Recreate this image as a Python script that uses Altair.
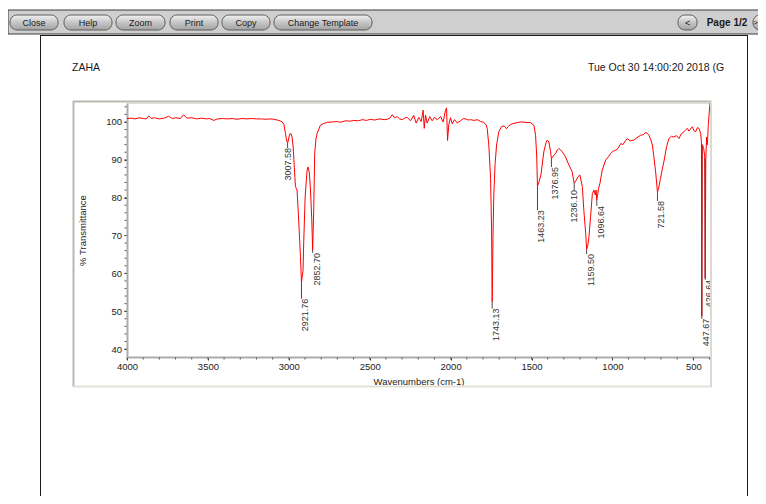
import altair as alt
import pandas as pd

FONT = "Liberation Sans"

# ---------------- spectrum ----------------
wavenumbers = [
    4000, 3975, 3950, 3925, 3900, 3880, 3866, 3850, 3830, 3800, 3770, 3743, 3720, 3700,
    3670, 3650, 3630, 3600, 3570, 3540, 3510, 3490, 3464, 3440, 3410, 3382, 3350, 3320,
    3290, 3260, 3230, 3200, 3170, 3140, 3110, 3093, 3072, 3055, 3041, 3030, 3021, 3015,
    3007.58, 3000, 2994, 2986, 2980, 2973, 2966, 2959, 2949, 2939, 2928, 2921.76, 2912,
    2908, 2899, 2887, 2881, 2873, 2866, 2858, 2852.70, 2846, 2840, 2832, 2825, 2805, 2785,
    2760, 2730, 2700, 2680, 2650, 2620, 2600, 2570, 2545, 2520, 2495, 2470, 2440, 2410,
    2392, 2375, 2361, 2347, 2330, 2315, 2299, 2285, 2268, 2248, 2228, 2213, 2197, 2182,
    2170, 2163, 2155, 2145, 2129, 2114, 2100, 2083, 2062, 2046, 2033, 2025, 2019, 2011,
    2001, 1990, 1976, 1959, 1939, 1920, 1908, 1890, 1877, 1855, 1835, 1815, 1795, 1780,
    1774, 1764, 1753, 1747, 1743.13, 1738, 1733, 1725, 1716, 1702, 1685, 1668, 1655, 1640,
    1620, 1590, 1566, 1540, 1505, 1485, 1475, 1468, 1463.23, 1455, 1442, 1424, 1410, 1403,
    1393, 1382, 1376.95, 1365, 1351, 1340, 1331, 1320, 1310, 1290, 1269, 1250, 1236.10,
    1225, 1213, 1201, 1186, 1176, 1165, 1159.50, 1152, 1145, 1135, 1124, 1114, 1106, 1101,
    1096.64, 1085, 1077, 1063, 1042, 1025, 1011, 995, 980, 965, 949, 935, 920, 908, 890,
    867, 850, 825, 810, 795, 785, 774, 763, 753, 743, 733, 721.58, 712, 703, 692, 682, 665,
    651, 635, 620, 605, 589, 575, 558, 545, 537, 528, 521, 512, 506, 495, 486, 475, 465,
    455, 450, 447.67, 444, 436, 430, 426.64, 423, 418, 413, 408, 403, 397,
]
transmittance = [
    100.9, 101.0, 100.8, 101.1, 100.9, 100.8, 101.6, 100.9, 101.1, 100.8, 101.0, 101.5, 100.9, 101.1,
    100.9, 101.9, 101.0, 101.1, 100.8, 101.0, 100.8, 100.9, 100.4, 100.8, 100.9, 100.8, 100.9, 100.7,
    100.9, 100.8, 100.9, 100.8, 100.8, 100.7, 100.8, 100.7, 100.5, 100.3, 100.0, 99.3, 97.0, 95.5,
    94.3, 95.8, 96.8, 96.9, 96.0, 93.4, 88.0, 82.9, 82.0, 74.1, 64.4, 57.5, 60.9,
    68.0, 80.2, 87.3, 88.1, 86.5, 82.0, 74.1, 66.2, 76.7, 91.7, 95.5, 97.0, 99.1, 99.6,
    99.9, 100.0, 100.1, 99.9, 100.3, 100.2, 100.4, 100.3, 100.6, 100.4, 100.7, 100.5, 100.8, 100.6,
    100.7, 101.0, 101.9, 101.1, 101.4, 100.8, 100.6, 101.0, 101.2, 100.3, 101.7, 99.7, 101.2, 100.1,
    103.1, 98.3, 101.8, 99.7, 101.4, 100.3, 101.2, 100.6, 101.4, 100.0, 102.8, 103.7, 95.1, 99.3,
    101.1, 99.5, 100.6, 99.7, 100.3, 100.9, 100.8, 100.5, 100.6, 100.4, 100.6, 100.1, 99.9, 99.2,
    98.3, 93.9, 85.1, 72.0, 52.5, 70.0, 80.7, 89.0, 93.9, 97.4, 98.8, 98.9, 98.2, 99.0,
    99.5, 99.8, 100.0, 99.9, 99.8, 99.1, 96.5, 91.0, 83.0, 84.0, 86.0, 92.1, 94.6, 95.2,
    94.7, 92.1, 90.3, 91.0, 91.7, 92.6, 93.0, 92.6, 92.1, 90.8, 88.6, 87.0, 83.8,
    84.5, 85.5, 86.0, 82.9, 76.3, 70.5, 66.3, 67.5, 69.7, 75.0, 81.1, 82.0, 80.7, 82.0,
    79.4, 82.5, 83.8, 87.3, 89.9, 90.8, 91.7, 92.3, 92.5, 93.0, 94.3, 94.0, 95.0, 95.6, 95.0,
    95.2, 95.8, 96.5, 96.6, 97.2, 97.0, 96.5, 95.3, 93.9, 90.5, 86.8, 81.4, 83.0, 85.1, 87.5, 89.5, 93.5,
    95.6, 96.2, 96.0, 96.4, 95.6, 96.8, 97.4, 98.0, 98.3, 97.6, 97.9, 98.5, 98.7, 97.6, 97.4, 98.5, 98.3,
    97.0, 94.7, 48.7, 94.0, 93.0, 91.0, 58.7, 90.0, 96.0, 94.0, 99.0, 101.8, 105.0,
]

# ---------------- peak labels ----------------
peak_wn = [3007.58, 2921.76, 2852.70, 1743.13, 1463.23, 1376.95, 1236.10, 1159.50,
           1096.64, 721.58, 447.67, 426.64]
peak_text = ["3007.58", "2921.76", "2852.70", "1743.13", "1463.23", "1376.95", "1236.10",
             "1159.50", "1096.64", "721.58", "447.67", "426.64"]
leader_from = [94.3, 57.5, 66.2, 52.5, 83.0, 90.3, 83.8, 66.3, 79.4, 81.4, 93.8, 90.4]
label_at = [93.1, 53.3, 65.4, 50.7, 76.7, 88.1, 82.0, 65.1, 77.8, 79.1, 48.0, 58.3]
label_centered = [True, False, False, False, False, False, True, False, False, False, False, False]

x_major_ticks = [500, 1000, 1500, 2000, 2500, 3000, 3500, 4000]
x_minor_ticks = list(range(400, 4001, 100))
y_major_ticks = [40, 50, 60, 70, 80, 90, 100]
y_minor_ticks = list(range(40, 105, 2))

# ---------------- window chrome (page pixel positions) ----------------
PX0, PY0 = 127, 103          # page position of the plot origin
W, H = 583, 254
TOTAL_W, TOTAL_H = 750, 488

button_names = ["Close", "Help", "Zoom", "Print", "Copy", "Change Template", "<", ">"]
button_left = [10, 64, 116, 170, 222, 274, 678, 753]
button_right = [58, 112, 165, 218, 270, 372, 697, 775]
button_text_x = [34, 88, 140.5, 194, 246, 323, 687.5, 755.5]

xs = alt.Scale(domain=[397, 4000], reverse=True, nice=False, zero=False)
ys = alt.Scale(domain=[37.9, 105.0], nice=False, zero=False)

one = pd.DataFrame({"a": [0]})


def rect(x0, x1, y0, y1, **kw):
    return alt.Chart(one).mark_rect(**kw).encode(
        x=alt.value(x0 - PX0), x2=alt.value(x1 - PX0),
        y=alt.value(y0 - PY0), y2=alt.value(y1 - PY0))


def rule(x0, y0, x1, y1, **kw):
    return alt.Chart(one).mark_rule(**kw).encode(
        x=alt.value(x0 - PX0), x2=alt.value(x1 - PX0),
        y=alt.value(y0 - PY0), y2=alt.value(y1 - PY0))


def label(x, y, txt, **kw):
    return alt.Chart(one).mark_text(text=txt, font=FONT, **kw).encode(
        x=alt.value(x - PX0), y=alt.value(y - PY0))


chrome = []
# toolbar
chrome.append(rect(8, 766, 10, 34, fill="#cfcfcf", stroke="#3a3a3a", strokeWidth=1))
grad = alt.LinearGradient(gradient="linear", x1=0, x2=0, y1=0, y2=1, stops=[
    alt.GradientStop(color="#f2f2f2", offset=0),
    alt.GradientStop(color="#c6c6c6", offset=0.5),
    alt.GradientStop(color="#a2a2a2", offset=1)])
for nm, a, b, tx in zip(button_names, button_left, button_right, button_text_x):
    chrome.append(rect(a, b, 15, 30, color=grad, stroke="#5c5c5c", strokeWidth=1, cornerRadius=7))
    chrome.append(label(tx, 22.5, nm, fontSize=9 if nm != ">" else 8, color="#1a1a1a"))
chrome.append(label(727, 22.5, "Page 1/2", fontSize=10, fontWeight="bold", color="#1a1a1a"))
# page border
chrome.append(rule(40, 35.5, 748, 35.5, color="#1a1a1a", strokeWidth=1))
chrome.append(rule(40.5, 35, 40.5, 504, color="#1a1a1a", strokeWidth=1))
chrome.append(rule(747.5, 35, 747.5, 504, color="#1a1a1a", strokeWidth=1))
# header
chrome.append(label(72, 68, "ZAHA", fontSize=10.5, color="#1a1a1a", align="left"))
chrome.append(label(588, 68, "Tue Oct 30 14:00:20 2018 (G", fontSize=10.5, color="#1a1a1a",
                    align="left"))
# chart frame
chrome.append(rule(73, 101.5, 711.5, 101.5, color="#bcb8ad", strokeWidth=2))
chrome.append(rule(73.5, 101, 73.5, 387, color="#bcb8ad", strokeWidth=2))
chrome.append(rule(73, 386.5, 711.5, 386.5, color="#e4e1d8", strokeWidth=2))
chrome.append(rule(711, 101, 711, 387, color="#dcd9d0", strokeWidth=2))

# ---------------- data layers ----------------
spec = pd.DataFrame({"wn": wavenumbers, "T": transmittance})
line = alt.Chart(spec).mark_line(color="#ff0000", strokeWidth=1, clip=True).encode(
    x=alt.X("wn:Q", scale=xs, axis=alt.Axis(
        values=x_major_ticks, format="d", labelOverlap=False, labelFlush=False,
        labelFont=FONT, labelFontSize=9.5, labelColor="#222", labelPadding=1,
        tickColor="#333", tickWidth=1, tickSize=3,
        domainColor="#ababab", domainWidth=2, grid=False,
        title="Wavenumbers (cm-1)", titleFont=FONT, titleFontSize=9.5, titleFontWeight="normal",
        titleColor="#222", titleX=W / 2, titleY=24, titleBaseline="middle", titleAlign="center")),
    y=alt.Y("T:Q", scale=ys, axis=alt.Axis(
        values=y_major_ticks, format="d", labelOverlap=False, labelFlush=False,
        labelFont=FONT, labelFontSize=9.5, labelColor="#222", labelPadding=2.5,
        tickColor="#333", tickWidth=1, tickSize=3,
        domainColor="#ababab", domainWidth=2, grid=False,
        title="% Transmittance", titleFont=FONT, titleFontSize=9.5, titleFontWeight="normal",
        titleColor="#222", titleX=-45, titleY=H / 2, titleAngle=270,
        titleBaseline="middle", titleAlign="center")),
)

# minor ticks
xminor = alt.Chart(pd.DataFrame({"v": x_minor_ticks})).mark_rule(
    color="#555", strokeWidth=1).encode(
    x=alt.X("v:Q", scale=xs), y=alt.value(H + 0.5), y2=alt.value(H + 2.5))
yminor = alt.Chart(pd.DataFrame({"v": y_minor_ticks})).mark_rule(
    color="#555", strokeWidth=1).encode(
    y=alt.Y("v:Q", scale=ys), x=alt.value(-0.5), x2=alt.value(-2.5))

labels = pd.DataFrame({"wn": peak_wn, "text": peak_text, "t0": leader_from,
                       "t1": label_at, "centered": label_centered})
leaders = alt.Chart(labels).mark_rule(color="#4a4a4a", strokeWidth=1, clip=True).encode(
    x=alt.X("wn:Q", scale=xs), y=alt.Y("t0:Q", scale=ys), y2="t1:Q")
text_side = alt.Chart(labels).transform_filter("!datum.centered").mark_text(
    angle=270, align="right", baseline="top", font=FONT, fontSize=9, color="#333",
    clip=True).encode(
    x=alt.X("wn:Q", scale=xs), y=alt.Y("t1:Q", scale=ys), text="text:N")
text_mid = alt.Chart(labels).transform_filter("datum.centered").mark_text(
    angle=270, align="right", baseline="middle", font=FONT, fontSize=9, color="#333",
    clip=True).encode(
    x=alt.X("wn:Q", scale=xs), y=alt.Y("t1:Q", scale=ys), text="text:N")

chart = alt.layer(
    line, *chrome, xminor, yminor, leaders, text_side, text_mid,
).properties(
    width=W, height=H,
    autosize=alt.AutoSizeParams(type="none"),
    padding={"left": PX0 - 8, "top": PY0 - 8, "right": TOTAL_W - (PX0 - 8) - W,
             "bottom": TOTAL_H - (PY0 - 8) - H},
    background="white",
).configure_view(stroke=None).configure(font=FONT)

chart.save("out.html", embed_options={"renderer": "svg", "actions": False})
